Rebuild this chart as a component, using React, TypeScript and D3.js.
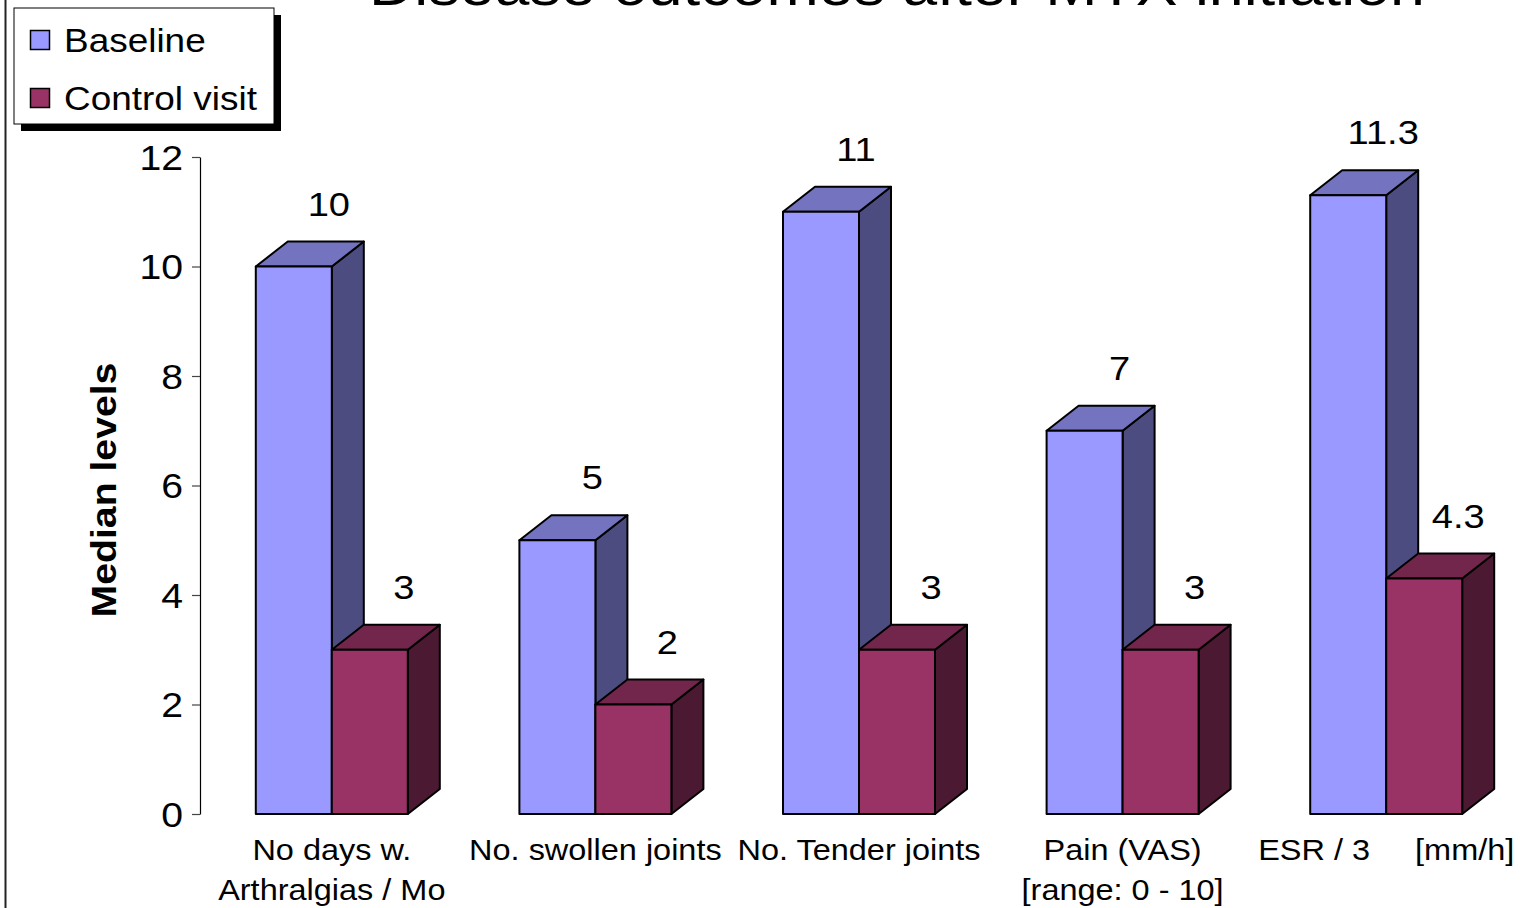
import * as d3 from "d3";
import React, { useEffect, useRef } from "react";

const categories = ["c1", "c2", "c3", "c4", "c5"];
const categoryLines = [
    ["No days w.", "Arthralgias / Mo"],
    ["No. swollen joints"],
    ["No. Tender joints"],
    ["Pain (VAS)", "[range: 0 - 10]"],
    ["ESR / 3     [mm/h]"],
];
const baselineValues = [10, 5, 11, 7, 11.3];
const controlValues = [3, 2, 3, 3, 4.3];
const seriesNames = ["Baseline", "Control visit"];
const yTicks = [0, 2, 4, 6, 8, 10, 12];
const title = "Disease outcomes after MTX initiation";

const W = 1520;
const H = 908;
const font = "'Liberation Sans', Arial, sans-serif";
const sx = 1.12; // the original text is a little wider than tall

const colors = [
    { front: "#9999FF", top: "#7373BF", side: "#4C4C80" },
    { front: "#993366", top: "#73264C", side: "#4C1933" },
];

function App() {
    const axisRef: any = useRef<any>(null);

    const y = d3.scaleLinear().domain([0, 12]).range([814, 157]);
    const x = d3.scaleBand().domain(categories).range([200, 1518]).padding(0);
    const barW = 76;
    const dx = 32;
    const dy = 25;

    useEffect(() => {
        const g = d3.select(axisRef.current);
        g.selectAll("*").remove();
        g.call(d3.axisLeft(y).tickValues(yTicks).tickSize(8).tickSizeOuter(0).tickFormat(d3.format("d")) as any);
        g.select(".domain").attr("stroke", "#000").attr("stroke-width", 1.2);
        g.selectAll(".tick line").attr("stroke", "#444").attr("stroke-width", 1.2);
        g.selectAll(".tick text")
            .attr("font-family", font)
            .attr("font-size", 35)
            .attr("fill", "#000")
            .attr("x", 0)
            .attr("dy", "0.35em")
            .attr("text-anchor", "end")
            .attr("transform", `translate(-17,0) scale(${sx},1)`);
    }, []);

    const box = (x0: number, v: number, c: any, key: string) => {
        const x1 = x0 + barW;
        const yT = y(v);
        const y0 = y(0);
        return (
            <g key={key} stroke="#000" strokeWidth={2} strokeLinejoin="round">
                <polygon points={`${x1},${yT} ${x1 + dx},${yT - dy} ${x1 + dx},${y0 - dy} ${x1},${y0}`} fill={c.side} />
                <polygon points={`${x0},${yT} ${x0 + dx},${yT - dy} ${x1 + dx},${yT - dy} ${x1},${yT}`} fill={c.top} />
                <rect x={x0} y={yT} width={barW} height={y0 - yT} fill={c.front} />
            </g>
        );
    };

    const label = (xc: number, yb: number, text: string, size: number, key: string, weight = "normal") => (
        <text key={key} transform={`translate(${xc},${yb}) scale(${sx},1)`} textAnchor="middle"
            fontFamily={font} fontSize={size} fontWeight={weight} fill="#000" style={{ whiteSpace: "pre" }}>
            {text}
        </text>
    );

    return (
        <div style={{ position: "fixed", left: 0, top: 0 }}>
            <svg width={W} height={H} style={{ display: "block", background: "#fff" }}>
                <line x1={5.5} x2={5.5} y1={0} y2={H} stroke="#222" strokeWidth={2} />

                {label(897, 5, title, 56, "title")}

                <g ref={axisRef} transform="translate(200,0)" />

                <text transform={`translate(104,490) rotate(-90) scale(${sx},1)`} textAnchor="middle"
                    dominantBaseline="central" fontFamily={font} fontSize={35} fontWeight="bold">
                    Median levels
                </text>

                {categories.map((c, i) => {
                    const mid = (x(c) as number) + x.bandwidth() / 2;
                    const bx = mid - barW;
                    const cx = mid;
                    return (
                        <g key={c}>
                            {box(bx, baselineValues[i], colors[0], "b")}
                            {box(cx, controlValues[i], colors[1], "c")}
                            {label(bx + barW - 3, y(baselineValues[i]) - dy - 26, String(baselineValues[i]), 34, "lb")}
                            {label(cx + barW - 4, y(controlValues[i]) - dy - 26, String(controlValues[i]), 34, "lc")}
                            {categoryLines[i].map((t, j) =>
                                label(mid, 860 + j * 40, t, 29, "x" + j))}
                        </g>
                    );
                })}

                <g>
                    <rect x={21} y={15} width={260} height={116} fill="#000" />
                    <rect x={14} y={8} width={260} height={116} fill="#fff" stroke="#000" strokeWidth={1} />
                    {seriesNames.map((s, i) => (
                        <g key={s}>
                            <rect x={30.5} y={30.5 + i * 58} width={19} height={19} fill={colors[i].front} stroke="#000" strokeWidth={1.5} />
                            <text transform={`translate(64,${52 + i * 58}) scale(${sx},1)`} fontFamily={font} fontSize={33} fill="#000">{s}</text>
                        </g>
                    ))}
                </g>
            </svg>
        </div>
    );
}

export default App;
